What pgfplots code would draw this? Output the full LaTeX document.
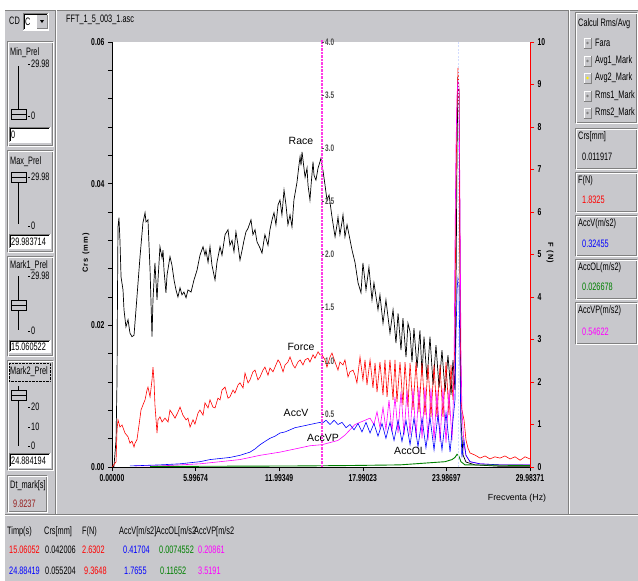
\documentclass[border=0pt]{standalone}
\usepackage{fontspec}
\setmainfont{Liberation Sans}[FakeStretch=0.68]
\newfontfamily\labfont{Liberation Sans}
\newfontfamily\spfont{Liberation Sans}[LetterSpace=15]
\usepackage{pgfplots}
\pgfplotsset{compat=1.18}
\definecolor{uigray}{RGB}{200,200,204}
\definecolor{uidark}{RGB}{128,128,128}
\definecolor{vpmag}{RGB}{255,0,255}
\definecolor{markmag}{RGB}{255,60,230}
\definecolor{olgreen}{RGB}{0,128,0}
\definecolor{dtred}{RGB}{150,30,30}
\definecolor{marklite}{RGB}{210,220,255}

\newcommand\uf{\fontsize{10.8}{12}\selectfont}
\newcommand\tf{\fontsize{10}{11}\selectfont\bfseries}
% ui helpers, pixel coords (y down)
\newcommand\etch[4]{\draw[uidark] (#1,#2) rectangle (#3,#4);\draw[white] ({#1+1},{#2+1}) rectangle ({#3+1},{#4+1});}
\newcommand\tbox[5]{\fill[white] (#1,#2) rectangle (#3,#4);\draw[white] (#1,#4) -| (#3,#2);\draw[uidark] (#1,#4) |- (#3,#2);\draw[black] ({#1+1},{#4-1}) |- ({#3-1},{#2+1});\node at ({#1+2},{(#2+#4)/2+0.5}) {#5};}
\newcommand\thumb[1]{\fill[uigray] (11,{#1-5}) rectangle (26,{#1+5});\draw[black] (11,{#1-5}) rectangle (26,{#1+5});\draw[black] (11,#1) -- (26,#1);}
\newcommand\stick[2]{\draw[black] (28,#1) -- (30,#1);\node at (31,#1) {#2};}
\newcommand\radio[3]{\fill[uigray] (584,{#1-5}) rectangle (591,{#1+5});\draw[white] (584,{#1+5}) |- (591,{#1-5});\draw[uidark] (584,{#1+5}) -| (591,{#1-5});\fill[#3] (587.5,#1) circle (1.4);\node at (595,#1) {#2};}
\newcommand\valbox[5]{\etch{575}{#1}{636}{#2}\node at (578,{#1+9}) {#3};\node[text=#4] at (582,{#2-11}) {#5};}

\begin{document}
\begin{tikzpicture}
\begin{scope}[x=1pt,y=-1pt,every node/.style={anchor=west,inner sep=0pt,font=\uf}]
\useasboundingbox (0,0) rectangle (638,581);
\fill[white] (0,0) rectangle (638,581);
\fill[uigray] (5,10) rectangle (638,581);
\draw[uidark] (5,10) -- (638,10);
% panel separators
\draw[uidark] (55,10) -- (55,514); \draw[white] (56,10) -- (56,514);
\draw[uidark] (568,10) -- (568,514); \draw[white] (569,10) -- (569,514);
\draw[uidark] (5,514) -- (638,514); \draw[white] (5,515) -- (638,515);
% left column
\node at (9,21) {CD};
\tbox{23}{13}{48}{30}{C}
\fill[uigray] (37,15) rectangle (47,28); \draw[uidark] (37,28) -| (47,15);
\fill[black] (40,20) -- (44,20) -- (42,23) -- cycle;
\etch{7}{41}{52}{145}
\node at (10,53) {Min\_Prel};
\draw[black,line width=0.8pt] (18,66) -- (18,114);
\thumb{114}
\stick{64}{29.98} \stick{116}{0}
\tbox{9}{127}{50}{142}{0}
\etch{7}{150}{52}{251}
\node at (10,162) {Max\_Prel};
\draw[black,line width=0.8pt] (18,172) -- (18,224);
\thumb{177}
\stick{177}{29.98} \stick{226}{0}
\tbox{9}{234}{50}{248}{29.983714}
\etch{7}{256}{52}{355}
\node at (10,266) {Mark1\_Prel};
\draw[black,line width=0.8pt] (18,276) -- (18,330);
\thumb{305}
\stick{276}{29.98} \stick{331}{0}
\tbox{9}{340}{50}{352}{15.060522}
\etch{7}{360}{52}{469}
\draw[black,densely dotted] (9,363) rectangle (50,381);
\node at (10,372) {Mark2\_Prel};
\draw[black,line width=0.8pt] (18,386) -- (18,446);
\thumb{395}
\stick{407}{20} \stick{427}{10} \stick{446}{0}
\tbox{9}{453}{50}{467}{24.884194}
\etch{7}{475}{46}{511}
\node at (10,486) {Dt\_mark[s]};
\node[text=dtred] at (13,504) {9.8237};
% plot panel
\node at (66,20) {FFT\_1\_5\_003\_1.asc};
\fill[white] (112,42) rectangle (530,467);
% right column
\etch{575}{12}{636}{122}
\node at (578,24) {Calcul Rms/Avg};
\radio{43}{Fara}{uidark}
\radio{61}{Avg1\_Mark}{uidark}
\radio{78}{Avg2\_Mark}{yellow}
\radio{96}{Rms1\_Mark}{uidark}
\radio{113}{Rms2\_Mark}{uidark}
\valbox{128}{168}{Crs[mm]}{black}{0.011917}
\valbox{172}{211}{F(N)}{red}{1.8325}
\valbox{215}{255}{AccV(m/s2)}{blue}{0.32455}
\valbox{259}{298}{AccOL(m/s2)}{olgreen}{0.026678}
\valbox{302}{343}{AccVP(m/s2)}{vpmag}{0.54622}
% bottom table
\node at (7,532) {Timp(s)};
\node at (44,532) {Crs[mm]};
\node at (82,532) {F(N)};
\node at (119,532) {AccV[m/s2]};
\node at (156,532) {AccOL[m/s2};
\node at (194,532) {AccVP[m/s2};
\node[text=red] at (9,550) {15.06052};
\node at (45,550) {0.042006};
\node[text=red] at (82,550) {2.6302};
\node[text=blue] at (123,550) {0.41704};
\node[text=olgreen] at (159,550) {0.0074552};
\node[text=vpmag] at (198,550) {0.20861};
\node[text=blue] at (9,571) {24.88419};
\node at (45,571) {0.055204};
\node[text=red] at (84,571) {9.3648};
\node[text=blue] at (124,571) {1.7655};
\node[text=olgreen] at (160,571) {0.11652};
\node[text=vpmag] at (198,571) {3.5191};
\end{scope}

% Race (mm), left axis
\begin{axis}[
  at={(112pt,-467pt)}, anchor=south west, scale only axis,
  width=418pt, height=425pt,
  xmin=0, xmax=29.98371, ymin=0, ymax=0.06,
  axis x line*=bottom, axis y line*=left,
  axis line style={black, line width=0.7pt},
  xtick={0,5.99674,11.99349,17.99023,23.98697,29.98371},
  xticklabels={0.00000,5.99674,11.99349,17.99023,23.98697,29.98371},
  ytick={0,0.02,0.04,0.06}, yticklabels={0.00,0.02,0.04,0.06},
  scaled y ticks=false, minor y tick num=4,
  tick align=outside, major tick length=4pt, minor tick length=4pt,
  tick style={black, line width=0.6pt},
  tick label style={font=\tf},
]
\addplot[black, line width=0.7pt] coordinates {
(0,0) (0.14,0.0001) (0.29,0.0038) (0.36,0.0123) (0.39,0.0232) (0.43,0.0339) (0.50,0.0352) (0.57,0.0320) (0.65,0.0268) (0.79,0.0250) (0.86,0.0222) (1.00,0.0198) (1.15,0.0208) (1.29,0.0189) (1.43,0.0184) (1.58,0.0186) (1.79,0.0240) (2.01,0.0297) (2.22,0.0345) (2.30,0.0352) (2.37,0.0359) (2.44,0.0346) (2.58,0.0349) (2.73,0.0278) (2.87,0.0184) (2.94,0.0236) (3.08,0.0288) (3.23,0.0236) (3.30,0.0264) (3.44,0.0311) (3.59,0.0295) (3.66,0.0306) (3.73,0.0278) (3.87,0.0246) (3.95,0.0271) (4.16,0.0297) (4.30,0.0285) (4.45,0.0264) (4.59,0.0250) (4.73,0.0240) (4.88,0.0253) (5.02,0.0243) (5.16,0.0247) (5.31,0.0239) (5.45,0.0250) (5.67,0.0247) (5.88,0.0264) (6.10,0.0278) (6.31,0.0299) (6.53,0.0311) (6.67,0.0299) (6.74,0.0306) (6.89,0.0289) (7.03,0.0311) (7.17,0.0285) (7.39,0.0264) (7.53,0.0289) (7.75,0.0311) (7.89,0.0299) (8.11,0.0328) (8.32,0.0335) (8.46,0.0313) (8.61,0.0320) (8.75,0.0304) (8.89,0.0332) (9.04,0.0313) (9.18,0.0292) (9.33,0.0306) (9.47,0.0320) (9.61,0.0332) (9.76,0.0337) (9.97,0.0349) (10.11,0.0328) (10.26,0.0335) (10.40,0.0318) (10.62,0.0309) (10.76,0.0302) (10.90,0.0320) (10.97,0.0328) (11.19,0.0313) (11.33,0.0335) (11.48,0.0349) (11.62,0.0359) (11.76,0.0342) (11.91,0.0370) (12.05,0.0377) (12.19,0.0356) (12.34,0.0391) (12.48,0.0370) (12.62,0.0342) (12.77,0.0356) (12.91,0.0339) (13.05,0.0377) (13.20,0.0394) (13.27,0.0402) (13.41,0.0426) (13.49,0.0438) (13.56,0.0426) (13.63,0.0445) (13.77,0.0422) (13.85,0.0409) (13.99,0.0422) (14.06,0.0398) (14.20,0.0377) (14.28,0.0398) (14.42,0.0431) (14.49,0.0412) (14.63,0.0405) (14.78,0.0422) (14.92,0.0431) (14.99,0.0436) (15.06,0.0426) (15.13,0.0419) (15.28,0.0398) (15.42,0.0377) (15.57,0.0384) (15.78,0.0353) (16.00,0.0325) (16.14,0.0342) (16.21,0.0353) (16.35,0.0328) (16.50,0.0346) (16.57,0.0356) (16.71,0.0325) (16.86,0.0342) (17.00,0.0328) (17.22,0.0306) (17.43,0.0289) (17.65,0.0260) (17.86,0.0246) (18.00,0.0288) (18.22,0.0250) (18.43,0.0282) (18.65,0.0236) (18.79,0.0260) (19.08,0.0222) (19.22,0.0243) (19.44,0.0203) (19.65,0.0236) (19.94,0.0189) (20.16,0.0222) (20.37,0.0175) (20.52,0.0217) (20.73,0.0165) (20.87,0.0210) (21.09,0.0155) (21.23,0.0203) (21.38,0.0191) (21.52,0.0148) (21.66,0.0196) (21.88,0.0140) (22.09,0.0193) (22.24,0.0130) (22.38,0.0184) (22.60,0.0123) (22.81,0.0184) (23.03,0.0116) (23.24,0.0172) (23.46,0.0112) (23.67,0.0165) (23.89,0.0106) (24.10,0.0158) (24.32,0.0102) (24.46,0.0151) (24.60,0.0109) (24.67,0.0236) (24.75,0.0448) (24.82,0.0551) (24.89,0.0525) (24.96,0.0306) (25.03,0.0066) (25.18,0.0017) (25.39,0.0007) (26.04,0.0003) (27.83,0.0001) (29.98,0.0001)
};
\end{axis}

% Force (N), right axis
\begin{axis}[
  at={(112pt,-467pt)}, anchor=south west, scale only axis,
  width=418pt, height=425pt,
  xmin=0, xmax=29.98371, ymin=0, ymax=10,
  axis x line=none, axis y line*=right,
  axis line style={red, line width=0.8pt},
  ytick={0,1,2,3,4,5,6,7,8,9,10}, yticklabels={0,1,2,3,4,5,6,7,8,9,10},
  tick align=outside, major tick length=4pt,
  ytick style={red, line width=0.6pt},
  yticklabel style={font=\tf, black},
]
\addplot[red, line width=0.6pt] coordinates {
(0,0) (0.29,0.12) (0.36,0.87) (0.43,1.11) (0.57,0.94) (0.72,0.99) (0.93,0.80) (1.15,0.71) (1.29,0.56) (1.43,0.61) (1.58,0.47) (1.65,0.56) (1.79,0.64) (1.94,0.99) (2.08,1.34) (2.22,1.46) (2.37,1.58) (2.51,1.81) (2.58,1.88) (2.73,1.65) (2.87,2.05) (2.94,2.35) (3.01,2.05) (3.08,1.46) (3.23,0.80) (3.30,1.11) (3.44,1.18) (3.59,1.06) (3.80,1.15) (4.02,1.06) (4.16,1.34) (4.30,1.27) (4.52,1.15) (4.73,1.29) (4.88,1.41) (5.09,1.22) (5.31,1.11) (5.45,1.15) (5.60,0.94) (5.81,1.11) (5.95,1.01) (6.17,1.27) (6.31,1.34) (6.53,1.22) (6.67,1.51) (6.89,1.39) (7.03,1.58) (7.24,1.41) (7.39,1.39) (7.60,1.62) (7.75,1.58) (7.89,1.81) (8.11,1.88) (8.32,1.62) (8.46,1.65) (8.68,1.81) (8.82,1.74) (9.04,1.93) (9.18,1.98) (9.40,1.86) (9.54,2.21) (9.76,1.98) (9.90,2.05) (10.11,2.24) (10.26,2.28) (10.47,2.05) (10.62,2.12) (10.83,2.28) (10.97,2.35) (11.19,2.16) (11.33,2.33) (11.55,2.24) (11.69,2.35) (11.91,2.52) (12.05,2.45) (12.27,2.24) (12.41,2.40) (12.62,2.47) (12.77,2.59) (12.98,2.40) (13.13,2.33) (13.34,2.47) (13.49,2.52) (13.70,2.40) (13.85,2.52) (14.06,2.56) (14.20,2.47) (14.42,2.64) (14.56,2.56) (14.78,2.71) (14.92,2.64) (15.06,2.64) (15.28,2.52) (15.42,2.35) (15.64,2.59) (15.78,2.68) (16.00,2.47) (16.21,2.28) (16.35,2.47) (16.57,2.40) (16.71,2.52) (16.93,2.12) (17.07,2.24) (17.29,2.28) (17.43,2.16) (17.57,1.98) (17.79,2.59) (18.00,2.05) (18.15,2.52) (18.29,1.93) (18.51,2.52) (18.72,1.86) (18.87,2.45) (19.01,1.76) (19.22,2.47) (19.44,1.69) (19.58,2.52) (19.73,1.65) (19.94,2.52) (20.16,1.58) (20.30,2.52) (20.44,1.53) (20.66,2.47) (20.87,1.46) (21.02,2.47) (21.23,1.41) (21.38,2.45) (21.59,1.34) (21.81,2.47) (22.02,1.29) (22.24,2.45) (22.45,1.22) (22.67,2.40) (22.88,1.18) (23.10,2.40) (23.31,1.18) (23.53,2.40) (23.74,1.18) (23.96,2.47) (24.17,1.22) (24.32,2.40) (24.46,1.58) (24.60,2.99) (24.67,6.52) (24.75,8.40) (24.82,9.39) (24.89,8.87) (24.96,4.24) (25.03,1.58) (25.10,1.34) (25.25,1.11) (25.39,0.64) (25.53,0.45) (25.68,0.33) (26.04,0.28) (26.40,0.21) (26.76,0.26) (27.11,0.19) (27.47,0.24) (27.83,0.21) (28.19,0.26) (28.55,0.19) (28.91,0.24) (29.27,0.16) (29.63,0.24) (29.98,0.19)
};
\end{axis}

% accelerations (m/s2), marker axis 0..4
\begin{axis}[
  at={(112pt,-467pt)}, anchor=south west, scale only axis,
  width=418pt, height=425pt,
  xmin=0, xmax=29.98371, ymin=0, ymax=4,
  hide axis, clip=false,
]
\addplot[vpmag, line width=0.6pt] coordinates {
(1.65,0.01) (3.44,0.01) (4.88,0.02) (6.31,0.03) (7.75,0.05) (9.18,0.07) (10.62,0.11) (12.05,0.14) (13.49,0.18) (14.20,0.20) (15.06,0.21) (15.64,0.23) (16.21,0.25) (16.71,0.30) (17.07,0.35) (17.43,0.40) (17.79,0.42) (18.15,0.44) (18.51,0.46) (18.79,0.40) (19.01,0.52) (19.22,0.37) (19.44,0.56) (19.65,0.35) (19.87,0.63) (20.08,0.33) (20.30,0.66) (20.52,0.32) (20.73,0.71) (20.95,0.30) (21.16,0.72) (21.38,0.30) (21.59,0.74) (21.81,0.28) (22.02,0.75) (22.24,0.27) (22.45,0.75) (22.67,0.25) (22.88,0.74) (23.10,0.25) (23.31,0.72) (23.53,0.24) (23.74,0.74) (23.96,0.23) (24.17,0.72) (24.39,0.25) (24.53,0.82) (24.60,2.04) (24.67,2.98) (24.75,3.50) (24.82,3.64) (24.89,3.55) (24.96,2.51) (25.03,1.10) (25.10,0.54) (25.25,0.21) (25.39,0.11) (25.68,0.05) (26.40,0.03) (27.83,0.02) (29.98,0.02)
};
\addplot[blue, line width=0.6pt] coordinates {
(1.29,0.01) (3.44,0.02) (4.88,0.03) (6.31,0.05) (7.03,0.07) (7.75,0.08) (8.46,0.09) (9.18,0.11) (9.90,0.14) (10.26,0.17) (10.62,0.21) (10.97,0.24) (11.33,0.27) (11.69,0.29) (12.05,0.32) (12.41,0.33) (12.77,0.35) (13.13,0.37) (13.49,0.38) (13.85,0.39) (14.20,0.40) (14.56,0.41) (14.92,0.42) (15.06,0.41) (15.35,0.44) (15.64,0.40) (15.93,0.44) (16.21,0.40) (16.50,0.42) (16.79,0.37) (17.07,0.40) (17.36,0.35) (17.65,0.41) (17.93,0.33) (18.22,0.42) (18.51,0.32) (18.79,0.41) (19.08,0.29) (19.37,0.41) (19.65,0.27) (19.94,0.42) (20.23,0.25) (20.52,0.44) (20.80,0.24) (21.09,0.44) (21.38,0.21) (21.66,0.46) (21.95,0.19) (22.24,0.46) (22.52,0.18) (22.81,0.47) (23.10,0.16) (23.38,0.49) (23.67,0.16) (23.96,0.51) (24.25,0.14) (24.46,0.44) (24.60,0.63) (24.67,1.20) (24.75,1.67) (24.82,1.78) (24.89,1.71) (24.96,1.01) (25.03,0.35) (25.10,0.09) (25.25,0.25) (25.39,0.11) (25.68,0.05) (26.40,0.03) (27.83,0.02) (29.98,0.02)
};
\addplot[olgreen, line width=0.9pt] coordinates {
(2.73,0.005) (13.49,0.01) (17.07,0.014) (20.66,0.02) (22.81,0.04) (23.89,0.05) (24.39,0.07) (24.60,0.09) (24.75,0.12) (24.89,0.10) (25.03,0.05) (25.32,0.02) (29.98,0.014)
};
\draw[draw=marklite, line width=0.9pt, dash pattern=on 2pt off 1.5pt] (axis cs:24.88419,0) -- (axis cs:24.88419,4);
\draw[draw=markmag, line width=1.1pt, dash pattern=on 2.5pt off 1pt] (axis cs:15.06052,0) -- (axis cs:15.06052,4.02);
\pgfplotsinvokeforeach{0.5,1.0,1.5,2.0,2.5,3.0,3.5,4.0}{
  \draw[black!70] (axis cs:15.06052,#1) -- ++(2pt,0);
  \node[anchor=west, inner sep=0pt, font=\fontsize{9.5}{10}\selectfont\bfseries, text=black!70] at ([xshift=3pt]axis cs:15.06052,#1) {#1};
}
\end{axis}

\begin{scope}[x=1pt,y=-1pt]
\node[font=\labfont\fontsize{10.5}{12}\selectfont, inner sep=0pt] at (301,141) {Race};
\node[font=\labfont\fontsize{10.5}{12}\selectfont, inner sep=0pt] at (301,347) {Force};
\node[font=\labfont\fontsize{10.5}{12}\selectfont, inner sep=0pt] at (296,413) {AccV};
\node[font=\labfont\fontsize{10.5}{12}\selectfont, inner sep=0pt] at (323,438) {AccVP};
\node[font=\labfont\fontsize{10.5}{12}\selectfont, inner sep=0pt] at (410,451) {AccOL};
\node[font=\labfont\fontsize{8.8}{10}\selectfont, inner sep=0pt] at (517,498) {Frecventa (Hz)};
\node[font=\spfont\fontsize{7.5}{9}\selectfont\bfseries, inner sep=0pt, rotate=90] at (86,253) {Crs (mm)};
\node[font=\spfont\fontsize{7.5}{9}\selectfont\bfseries, inner sep=0pt, rotate=-90] at (550,253) {F (N)};
\end{scope}
\end{tikzpicture}
\end{document}
